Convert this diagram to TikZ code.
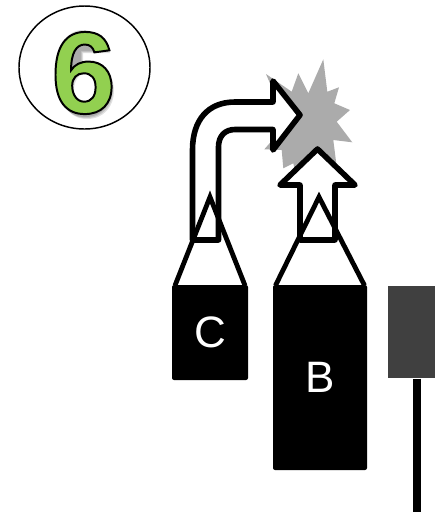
\documentclass[tikz,border=0pt]{standalone}
\usepackage{fontspec}
\setmainfont{Liberation Sans}
\newfontfamily\sixfont[FakeBold=1.7]{Liberation Sans Bold}
\definecolor{sixgreen}{HTML}{92D050}
\definecolor{stargray}{HTML}{ABABAB}
\definecolor{sensorgray}{HTML}{404040}
\tikzset{
	pencil/.style={fill=black,rounded corners=1.5pt,inner sep=0pt,text=white,font=\fontsize{33}{33}\selectfont},
	tip/.style={line width=3.6pt,line join=miter,black},
	flow/.style={line width=4.2pt,line join=round,fill=white,draw=black}
}
\begin{document}
\begin{tikzpicture}[x=0.75pt,y=-0.75pt]
	\useasboundingbox (0,0) rectangle (435,512);
	% number in its circle
	\draw[line width=1.1pt,fill=white] (84.5,67.5) ellipse (65.5 and 61.5);
	\foreach \d in {1,2,3}
		\fill[black,opacity=0.12,even odd rule,shift={(\d,\d)}] (107,50) .. controls (102,36) and (94,29) .. (82,29) .. controls (64,29) and (55,48) .. (55,73) .. controls (55,100) and (66,116) .. (84,116) .. controls (101,116) and (111,103) .. (111,88) .. controls (111,74) and (104,66) .. (90,66) -- (80,66) -- (80,50) -- cycle (84,70) .. controls (77,70) and (71,77) .. (71,87) .. controls (71,97) and (77,104) .. (84,104) .. controls (91,104) and (97,97) .. (97,87) .. controls (97,77) and (91,70) .. (84,70) -- cycle;
	\node[font=\fontsize{87}{87}\selectfont\sixfont] (six) at (83.5,73) {\color{sixgreen}\special{pdf:code 0 0 0 RG}6};
	% collision
	\fill[stargray] (323.3,59.3) -- (327.3,91.7) -- (339,87.3) -- (334.3,103.3) -- (350,110) -- (336.7,121.7) -- (352.3,142.3) -- (333.3,140) -- (336.7,166.7) -- (321.7,158.3) -- (309,182.7) -- (303.3,166.7) -- (297.7,183.3) -- (293.3,163.3) -- (283.3,168.3) -- (281.7,150) -- (264.3,149.3) -- (278.3,133.3) -- (275,125) -- (264,112.3) -- (280,106.7) -- (266,74) -- (291.7,91.7) -- (298.3,73.3) -- (308.3,93.3) -- cycle;
	% flows
	\draw[flow] (192.5,240) -- (192.5,150) .. controls (192.5,120) and (208,102) .. (235,102) -- (273,102) -- (273,81) -- (300,115) -- (273,150) -- (273,129.5) -- (235,129.5) .. controls (225,129.5) and (218.5,136) .. (218.5,147) -- (218.5,240) -- cycle;
	\draw[flow] (300,240) -- (335,240) -- (335,185) -- (355,185) -- (317.5,149) -- (280,185) -- (300,185) -- cycle;
	% pencils
	\node[pencil,minimum width=57pt,minimum height=71.25pt] (C) at (210,332.5) {C};
	\node[pencil,minimum width=70.5pt,minimum height=138.75pt] (B) at (320,377.5) {B};
	\draw[tip] (175,285.5) -- (210,197) -- (245,285.5);
	\draw[tip] (275.5,285.5) -- (319,197) -- (364.5,285.5);
	% sensor
	\node[fill=sensorgray,minimum width=35.25pt,minimum height=69pt,inner sep=0pt,anchor=north west] (sensor) at (388,286) {};
	\coordinate (stemend) at (417,512);
	\draw[line width=5.6pt] (sensor.south -| stemend) -- (stemend);
\end{tikzpicture}
\end{document}
